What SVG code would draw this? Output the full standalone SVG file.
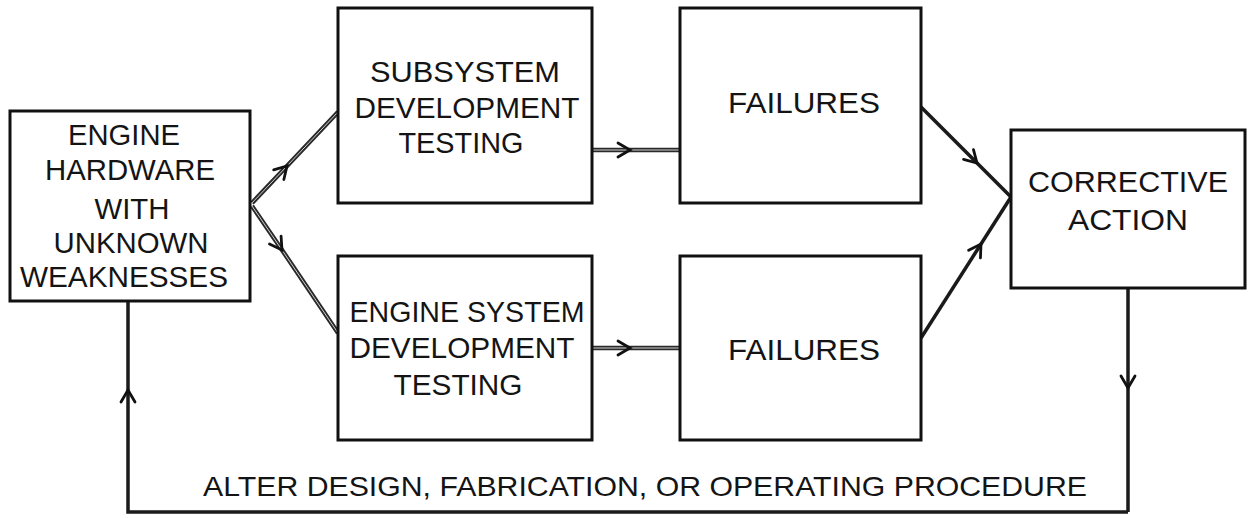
<svg xmlns="http://www.w3.org/2000/svg" width="1248" height="518" viewBox="0 0 1248 518">
  <style>
    .box { fill: #fff; stroke: #111; stroke-width: 3; }
    .lbl { font-family: "Liberation Sans", Arial, sans-serif; font-size: 30px; fill: #141414; text-anchor: middle; }
    .note { font-family: "Liberation Sans", Arial, sans-serif; font-size: 28px; fill: #141414; }
    .wire { fill: none; stroke: #1a1a1a; stroke-width: 3.5; stroke-linejoin: miter; }
    .hollow { fill: none; stroke: #2a2a2a; stroke-width: 4.5; }
    .core { fill: none; stroke: #cfcfcf; stroke-width: 1; }
  </style>
  <defs>
    <!-- open chevron arrowhead placed on the middle vertex of each connector -->
    <marker id="chev" markerUnits="userSpaceOnUse" markerWidth="30" markerHeight="30" viewBox="-15 -15 30 30" refX="0" refY="0" orient="auto">
      <path d="M -12,-7 L 0,0 L -12,7" fill="none" stroke="#111" stroke-width="2.8" stroke-linecap="round" stroke-linejoin="miter"/>
    </marker>
  </defs>
  <rect width="1248" height="518" fill="#fff"/>

  <!-- connectors -->
  <g id="connectors">
    <polyline class="hollow" points="252,203 287,166 338,112"/>
    <polyline class="core" points="252,203 287,166 338,112"/>
    <polyline class="wire" style="stroke:none" points="252,203 287,166 338,112" marker-mid="url(#chev)"/>

    <polyline class="hollow" points="252,206 282,250 338,333"/>
    <polyline class="core" points="252,206 282,250 338,333"/>
    <polyline class="wire" style="stroke:none" points="252,206 282,250 338,333" marker-mid="url(#chev)"/>

    <polyline class="hollow" points="593,150 630,150 680,150"/>
    <polyline class="core" points="593,150 630,150 680,150"/>
    <polyline class="wire" style="stroke:none" points="593,150 630,150 680,150" marker-mid="url(#chev)"/>

    <polyline class="hollow" points="593,348 630,348 680,348"/>
    <polyline class="core" points="593,348 630,348 680,348"/>
    <polyline class="wire" style="stroke:none" points="593,348 630,348 680,348" marker-mid="url(#chev)"/>

    <polyline class="wire" points="921,107 977,163 1011,197" marker-mid="url(#chev)"/>
    <polyline class="wire" points="921,338 981,244 1011,197" marker-mid="url(#chev)"/>

    <polyline class="wire" points="1128,288 1128,388 1128,512" marker-mid="url(#chev)"/>
    <polyline class="wire" points="1128,512 128,512 128,301"/>
    <polyline class="wire" style="stroke:none" points="128,512 128,390 128,301" marker-mid="url(#chev)"/>
  </g>

  <g id="engine-hardware">
    <rect class="box" x="10" y="111" width="240" height="190"/>
    <text class="lbl" x="124" y="145" textLength="112" lengthAdjust="spacingAndGlyphs">ENGINE</text>
    <text class="lbl" x="130" y="180" textLength="170" lengthAdjust="spacingAndGlyphs">HARDWARE</text>
    <text class="lbl" x="132" y="219" textLength="75" lengthAdjust="spacingAndGlyphs">WITH</text>
    <text class="lbl" x="131" y="253" textLength="155" lengthAdjust="spacingAndGlyphs">UNKNOWN</text>
    <text class="lbl" x="124" y="287" textLength="208" lengthAdjust="spacingAndGlyphs">WEAKNESSES</text>
  </g>

  <g id="subsystem-testing">
    <rect class="box" x="338" y="8" width="254" height="195"/>
    <text class="lbl" x="465" y="82" textLength="190" lengthAdjust="spacingAndGlyphs">SUBSYSTEM</text>
    <text class="lbl" x="467" y="118" textLength="225" lengthAdjust="spacingAndGlyphs">DEVELOPMENT</text>
    <text class="lbl" x="461" y="153" textLength="125" lengthAdjust="spacingAndGlyphs">TESTING</text>
  </g>

  <g id="engine-system-testing">
    <rect class="box" x="338" y="256" width="254" height="184"/>
    <text class="lbl" x="467" y="322" textLength="235" lengthAdjust="spacingAndGlyphs">ENGINE SYSTEM</text>
    <text class="lbl" x="462" y="358" textLength="225" lengthAdjust="spacingAndGlyphs">DEVELOPMENT</text>
    <text class="lbl" x="458" y="395" textLength="129" lengthAdjust="spacingAndGlyphs">TESTING</text>
  </g>

  <g id="failures-upper">
    <rect class="box" x="680" y="8" width="241" height="195"/>
    <text class="lbl" x="804" y="113" textLength="152" lengthAdjust="spacingAndGlyphs">FAILURES</text>
  </g>

  <g id="failures-lower">
    <rect class="box" x="680" y="256" width="241" height="184"/>
    <text class="lbl" x="804" y="360" textLength="152" lengthAdjust="spacingAndGlyphs">FAILURES</text>
  </g>

  <g id="corrective-action">
    <rect class="box" x="1011" y="130" width="234" height="158"/>
    <text class="lbl" x="1128" y="192" textLength="200" lengthAdjust="spacingAndGlyphs">CORRECTIVE</text>
    <text class="lbl" x="1128" y="230" textLength="120" lengthAdjust="spacingAndGlyphs">ACTION</text>
  </g>

  <g id="feedback-label">
    <text class="note" x="203" y="496" textLength="884" lengthAdjust="spacingAndGlyphs">ALTER DESIGN, FABRICATION, OR OPERATING PROCEDURE</text>
  </g>
</svg>
